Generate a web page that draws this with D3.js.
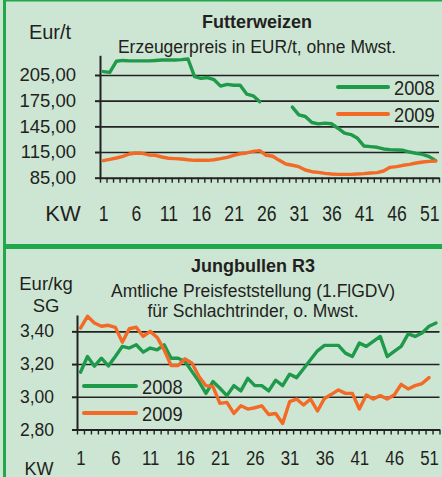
<!DOCTYPE html>
<html>
<head>
<meta charset="utf-8">
<title></title>
<script src="https://d3js.org/d3.v7.min.js"></script>
<style>
body { margin: 0; background: #cde6d4; }
svg text { font-family: "Liberation Sans", Arial, sans-serif; fill: #231f20; }
</style>
</head>
<body>
<div id="chart"></div>
<script>
// Kalenderwochen and labels
var weeks = d3.range(1, 53);
var weekLabels = [1, 6, 11, 16, 21, 26, 31, 36, 41, 46, 51];
var years = ["2008", "2009"];

// Futterweizen, Erzeugerpreis EUR/t (null = no quote)
var weizen2008 = [209, 208, 221, 222, 221.5, 221.5, 221.5, 221.5, 222, 222.5,
  222.5, 222.5, 223, 223.7, 203, 201, 202, 199.5, 192, 194,
  193, 193, 182.7, 180.7, 173.7, null, null, null, null, 167.4,
  158.4, 156.5, 149.5, 147.9, 148.7, 148, 142.8, 137, 135.4, 131,
  122, 121.3, 120.5, 118.6, 117.8, 117.4, 117, 115, 113.5, 112.3,
  109.6, 105];
var weizen2009 = [105, 106.5, 108, 110, 112.7, 113.9, 113.5, 111.6, 111.2, 109.2,
  107.7, 107.3, 106.9, 106, 105.3, 105.3, 105.3, 106, 107.3, 108.8,
  111.2, 113, 113.9, 115.8, 116.6, 111.2, 110, 105.3, 101, 99.5,
  97.9, 94, 92, 91.2, 90, 89.3, 88.9, 88.9, 88.9, 89.3,
  89.7, 90.5, 90.9, 92.8, 97.1, 97.9, 99.5, 100.6, 102.2, 103.4,
  104.1, 104.5];
var weizenTicks = [85, 115, 145, 175, 205];

// Jungbullen R3, EUR/kg SG
var bullen2008 = [3.15, 3.246, 3.187, 3.236, 3.189, 3.246, 3.308, 3.298, 3.318, 3.273,
  3.298, 3.287, 3.318, 3.236, 3.236, 3.216, 3.154, 3.093, 3.021, 3.093,
  3.052, 3.007, 3.068, 3.036, 3.113, 3.068, 3.068, 3.036, 3.101, 3.068,
  3.138, 3.117, 3.171, 3.226, 3.281, 3.314, 3.314, 3.314, 3.267, 3.246,
  3.328, 3.308, 3.339, 3.369, 3.246, 3.277, 3.308, 3.384, 3.369, 3.39,
  3.431, 3.451];
var bullen2009 = [3.42, 3.492, 3.451, 3.431, 3.437, 3.425, 3.334, 3.416, 3.425, 3.369,
  3.4, 3.363, 3.287, 3.191, 3.191, 3.232, 3.205, 3.124, 3.068, 3.062,
  2.96, 2.966, 2.898, 2.945, 2.925, 2.933, 2.945, 2.892, 2.898, 2.837,
  2.97, 2.986, 2.95, 2.986, 2.913, 2.99, 3.015, 3.042, 3.021, 3.021,
  2.925, 3.011, 2.986, 3.007, 2.986, 3.011, 3.076, 3.048, 3.068, 3.081,
  3.117];
var bullenTicks = [2.8, 3.0, 3.2, 3.4];

var colors = { "2008": "#1f9a4a", "2009": "#f26a26" };
var border = "#22a84c";

var de = d3.formatLocale({ decimal: ",", thousands: ".", grouping: [3], currency: ["", " €"] });
var fmt = de.format(".2f");

var svg = d3.select("#chart").append("svg")
  .attr("width", 442)
  .attr("height", 477);

svg.append("rect").attr("width", 442).attr("height", 477).attr("fill", "#cde6d4");
svg.append("rect").attr("x", 3).attr("y", 0).attr("width", 3).attr("height", 477).attr("fill", border);
svg.append("rect").attr("x", 3).attr("y", 0).attr("width", 439).attr("height", 1.5).attr("fill", border);
svg.append("rect").attr("x", 3).attr("y", 244).attr("width", 439).attr("height", 5).attr("fill", border);

function drawPanel(o) {
  var g = svg.append("g");
  var x = d3.scaleLinear().domain([0.5, 52.5]).range([o.left, o.right]);
  var y = d3.scaleLinear().domain(o.yDomain).range([o.bottom, o.top]);

  // gridlines
  g.append("g")
    .attr("transform", "translate(" + o.left + ",0)")
    .call(d3.axisRight(y).tickValues(o.yTicks.slice(1)).tickSize(o.right - o.left).tickFormat(""))
    .call(function(a) { a.select(".domain").remove(); })
    .selectAll("line").attr("stroke", "#222").attr("stroke-width", 1.6);

  // y axis
  var ya = g.append("g")
    .attr("transform", "translate(" + o.left + ",0)")
    .call(d3.axisLeft(y).tickValues(o.yTicks).tickSize(5).tickSizeOuter(0).tickPadding(o.yPad).tickFormat(fmt));
  ya.selectAll("line, path").attr("stroke", "#222").attr("stroke-width", 2);
  ya.selectAll("text").attr("font-size", o.yFont).attr("font-family", null).attr("fill", "#231f20");

  // week ticks
  var xa = g.append("g")
    .attr("transform", "translate(0," + o.bottom + ")")
    .call(d3.axisBottom(x).tickValues(d3.range(0.5, 53, 1)).tickSize(5).tickSizeOuter(0).tickFormat(""));
  xa.selectAll("line, path").attr("stroke", "#222").attr("stroke-width", 2);
  xa.selectAll("line").attr("stroke-width", 1.4);

  // week labels
  var xl = g.append("g")
    .attr("transform", "translate(0," + o.bottom + ")")
    .call(d3.axisBottom(x).tickValues(weekLabels).tickSize(0));
  xl.select(".domain").remove();
  xl.selectAll("text")
    .attr("y", o.xLabelY - o.bottom).attr("dy", null)
    .attr("font-size", o.xFont).attr("font-family", null).attr("fill", "#231f20")
    .attr("transform", "scale(0.8,1)");

  // lines
  var line = d3.line()
    .defined(function(d) { return d != null; })
    .x(function(d, i) { return x(weeks[i]); })
    .y(function(d) { return y(d); })
    .curve(d3.curveLinear);

  o.series.forEach(function(s, i) {
    g.append("path")
      .datum(s)
      .attr("fill", "none")
      .attr("stroke", colors[years[i]])
      .attr("stroke-width", 3.4)
      .attr("stroke-linejoin", "round")
      .attr("stroke-linecap", "round")
      .attr("d", line);
  });

  // legend
  years.forEach(function(yr, i) {
    var ly = o.legend.y + i * o.legend.gap;
    g.append("line")
      .attr("x1", o.legend.x).attr("x2", o.legend.x + o.legend.len)
      .attr("y1", ly).attr("y2", ly)
      .attr("stroke", colors[yr]).attr("stroke-width", 4).attr("stroke-linecap", "round");
    g.append("text")
      .attr("transform", "translate(" + (o.legend.x + o.legend.len + 6) + "," + (ly + 8) + ") scale(0.87,1)")
      .attr("font-size", 21)
      .text(yr);
  });

  // titles
  o.titles.forEach(function(t) {
    g.append("text")
      .attr("x", t.x).attr("y", t.y)
      .attr("text-anchor", "middle")
      .attr("font-size", t.size)
      .attr("font-weight", t.bold ? "bold" : null)
      .text(t.text);
  });
}

drawPanel({
  left: 100, right: 439, top: 55.3, bottom: 177.7,
  yDomain: [85, 228], yTicks: weizenTicks, yPad: 19, yFont: 18.5,
  xLabelY: 221, xFont: 22,
  series: [weizen2008, weizen2009],
  legend: { x: 338, len: 50, y: 87, gap: 27 },
  titles: [
    { text: "Futterweizen", x: 257, y: 28, size: 18, bold: true },
    { text: "Erzeugerpreis in EUR/t, ohne Mwst.", x: 257, y: 52.5, size: 17.5 },
    { text: "Eur/t", x: 50, y: 38.5, size: 20 },
    { text: "KW", x: 63, y: 221, size: 22 }
  ]
});

drawPanel({
  left: 77, right: 439.5, top: 315, bottom: 429.5,
  yDomain: [2.8, 3.5], yTicks: bullenTicks, yPad: 18, yFont: 17.5,
  xLabelY: 465, xFont: 21,
  series: [bullen2008, bullen2009],
  legend: { x: 84, len: 52, y: 386, gap: 27 },
  titles: [
    { text: "Jungbullen R3", x: 253, y: 272, size: 18, bold: true },
    { text: "Amtliche Preisfeststellung (1.FlGDV)", x: 253, y: 296.5, size: 17.5 },
    { text: "für Schlachtrinder, o. Mwst.", x: 253, y: 316.5, size: 17.5 },
    { text: "Eur/kg", x: 46, y: 290, size: 18.5 },
    { text: "SG", x: 46, y: 311.5, size: 18.5 },
    { text: "KW", x: 39, y: 474.5, size: 18 }
  ]
});
</script>
</body>
</html>
